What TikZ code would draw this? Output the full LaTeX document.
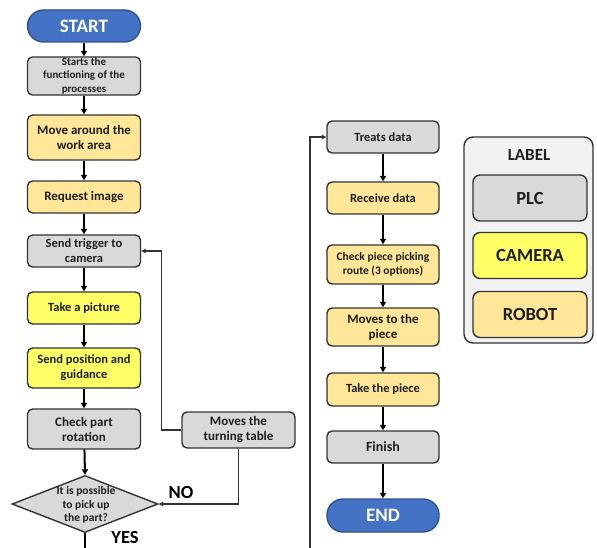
\documentclass[tikz,border=0pt]{standalone}
\usepackage{fontspec}
\setmainfont{Carlito}
\usetikzlibrary{arrows.meta,shapes.geometric}
\definecolor{bluef}{HTML}{4472C4}
\definecolor{blueb}{HTML}{2F528F}
\definecolor{grayf}{HTML}{D9D9D9}
\definecolor{orgf}{HTML}{FFE699}
\definecolor{yelf}{HTML}{FFFF66}
\definecolor{bord}{HTML}{333333}
\definecolor{txt}{HTML}{1E1E1E}
\definecolor{legf}{HTML}{F2F2F2}
\begin{document}
\begin{tikzpicture}[x=1pt,y=-1pt,
  box/.style={draw=bord, line width=1.4pt, rounded corners=5pt, minimum width=113pt, align=center, font=\fontsize{12.5}{15}\selectfont\bfseries, text=txt, inner sep=1pt},
  plcbox/.style={box, fill=grayf},
  cambox/.style={box, fill=yelf},
  robbox/.style={box, fill=orgf},
  termbox/.style={box, fill=bluef, draw=blueb, rounded corners=16pt, text=white, font=\fontsize{19}{21}\selectfont\bfseries},
  flow/.style={line width=2pt, -{Triangle[length=5.5pt,width=6pt]}},
  back/.style={line width=1.1pt, draw=bord, -{Triangle[length=4.5pt,width=4.5pt]}},
  legbox/.style={draw=bord, line width=1.4pt, rounded corners=7pt, minimum width=114pt, minimum height=46pt, font=\fontsize{18.5}{20}\selectfont\bfseries, text=txt},
  tag/.style={fill=white, font=\fontsize{18.5}{20}\selectfont\bfseries, text=black, inner sep=2pt}]
\useasboundingbox (0,0) rectangle (597,548);
% left column
\node[termbox, minimum height=32pt] (start) at (84,26) {START};
\node[plcbox, minimum height=38pt, font=\fontsize{11}{13.3}\selectfont\bfseries] (s1) at (84,76) {Starts the\\functioning of the\\processes};
\node[robbox, minimum height=45pt, font=\fontsize{13}{15.7}\selectfont\bfseries] (s2) at (84,137.5) {Move around the\\work area};
\node[robbox, minimum height=32pt, font=\fontsize{13}{15}\selectfont\bfseries] (s3) at (84,197) {Request image};
\node[plcbox, minimum height=32pt] (s4) at (84,251) {Send trigger to\\camera};
\node[cambox, minimum height=32pt] (s5) at (84,308) {Take a picture};
\node[cambox, minimum height=40pt] (s6) at (84,368) {Send position and\\guidance};
\node[plcbox, minimum height=40pt, font=\fontsize{13}{15}\selectfont\bfseries] (s7) at (84,429) {Check part\\rotation};
\node[diamond, draw=bord, line width=1.4pt, fill=grayf, minimum width=146pt, minimum height=57pt, inner sep=0pt] (dec) at (85,504) {};
\node[align=center, font=\fontsize{11.5}{13.5}\selectfont\bfseries, text=txt] (dect) at (86,505) {It is possible\\to pick up\\the part?};
\node[plcbox, minimum height=36pt, font=\fontsize{13}{15}\selectfont\bfseries] (mv) at (238.5,430) {Moves the\\turning table};
\node[tag] (no) at (181,492) {NO};
\node[tag] (yes) at (125,537) {YES};
\coordinate (lout) at (85,548);
% right column
\node[plcbox, minimum width=112pt, minimum height=32pt] (r1) at (383,137) {Treats data};
\node[robbox, minimum width=112pt, minimum height=32pt] (r2) at (383,198) {Receive data};
\node[robbox, minimum width=112pt, minimum height=39pt, font=\fontsize{11.5}{14}\selectfont\bfseries] (r3) at (383,264.5) {Check piece picking\\route (3 options)};
\node[robbox, minimum width=112pt, minimum height=38pt, font=\fontsize{13}{15}\selectfont\bfseries] (r4) at (383,327) {Moves to the\\piece};
\node[robbox, minimum width=112pt, minimum height=33pt] (r5) at (383,389.5) {Take the piece};
\node[plcbox, minimum width=112pt, minimum height=32pt, font=\fontsize{14}{16}\selectfont\bfseries] (r6) at (383,447) {Finish};
\node[termbox, minimum width=112pt, minimum height=33pt] (end) at (383,515.5) {END};
\coordinate (rin) at (310,548);
% legend
\node[draw=bord, line width=1.4pt, fill=legf, rounded corners=9pt, minimum width=129pt, minimum height=206pt] (leg) at (528.5,240) {};
\node[font=\fontsize{17}{19}\selectfont\bfseries, text=txt] (legt) at (529,155) {LABEL};
\node[legbox, fill=grayf] (lplc) at (530,198) {PLC};
\node[legbox, fill=yelf] (lcam) at (530,255.5) {CAMERA};
\node[legbox, fill=orgf] (lrob) at (530,314.5) {ROBOT};
% connectors
\draw[flow] (start) -- (s1);
\draw[flow] (s1) -- (s2);
\draw[flow] (s2) -- (s3);
\draw[flow] (s3) -- (s4);
\draw[flow] (s4) -- (s5);
\draw[flow] (s5) -- (s6);
\draw[flow] (s6) -- (s7);
\draw[flow] (s7) -- (dec.north);
\draw[line width=2pt] (dec.south) -- (lout);
\draw[back] (mv.south) |- (dec.east);
\draw[back] (mv.west) -- ++(-20,0) |- (s4.east);
\draw[back] (rin) |- (r1.west);
\draw[flow] (r1) -- (r2);
\draw[flow] (r2) -- (r3);
\draw[flow] (r3) -- (r4);
\draw[flow] (r4) -- (r5);
\draw[flow] (r5) -- (r6);
\draw[flow] (r6) -- (end);
\end{tikzpicture}
\end{document}
